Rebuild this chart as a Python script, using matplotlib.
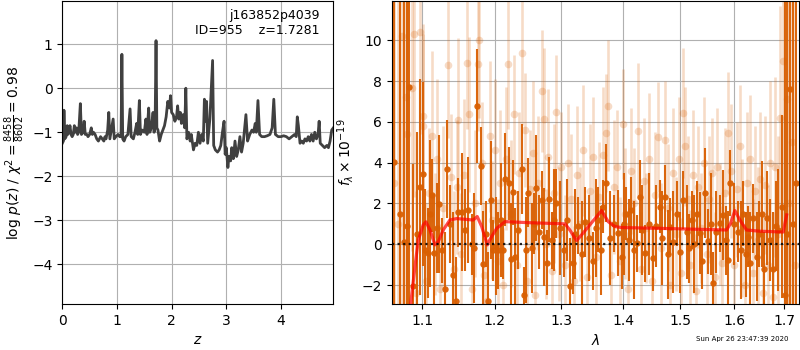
import numpy as np
import matplotlib
matplotlib.use("Agg")
import matplotlib.pyplot as plt
from matplotlib.ticker import FixedLocator, FixedFormatter, NullLocator

# ---------------- p(z) data ----------------
pz_z = [0.00, 0.02, 0.03, 0.045, 0.07, 0.09, 0.10, 0.12, 0.14, 0.16, 0.18, 0.20, 0.22, 0.24, 0.26, 0.28,
        0.30, 0.33, 0.35, 0.38, 0.40, 0.42, 0.45, 0.47, 0.50, 0.53, 0.55, 0.57, 0.60, 0.63, 0.66, 0.70,
        0.73, 0.76, 0.78, 0.80, 0.83, 0.85, 0.87, 0.89, 0.93, 0.95, 0.98, 1.02, 1.05, 1.075, 1.09, 1.105,
        1.13, 1.16, 1.20, 1.24, 1.26, 1.30, 1.33, 1.36, 1.38, 1.41, 1.43, 1.46, 1.50, 1.53, 1.55, 1.58,
        1.60, 1.63, 1.66, 1.68, 1.70, 1.715, 1.73, 1.75, 1.78, 1.81, 1.84, 1.87, 1.90, 1.93, 1.96, 1.98,
        2.00, 2.03, 2.06, 2.09, 2.11, 2.13, 2.16, 2.18, 2.21, 2.24, 2.26, 2.28, 2.31, 2.34, 2.36, 2.40,
        2.43, 2.46, 2.49, 2.52, 2.55, 2.58, 2.60, 2.62, 2.64, 2.66, 2.70, 2.75, 2.77, 2.80, 2.84, 2.87,
        2.90, 2.93, 2.96, 2.98, 3.00, 3.03, 3.05, 3.08, 3.10, 3.13, 3.16, 3.19, 3.22, 3.25, 3.28, 3.31,
        3.36, 3.39, 3.43, 3.47, 3.50, 3.53, 3.55, 3.58, 3.61, 3.65, 3.70, 3.75, 3.80, 3.84, 3.87, 3.90,
        3.95, 4.00, 4.05, 4.10, 4.15, 4.20, 4.25, 4.28, 4.30, 4.32, 4.35, 4.38, 4.41, 4.44, 4.47, 4.50,
        4.53, 4.56, 4.59, 4.62, 4.65, 4.68, 4.70, 4.72, 4.76, 4.80, 4.84, 4.87, 4.90, 4.93, 4.96]
pz_logp = [-1.25, -1.2, -0.5, -1.15, -1.1, -0.85, -1.05, -1.0, -0.85, -1.05, -1.1, -1.05, -0.85, -1.0, -0.9, -1.05,
           -1.0, -0.35, -1.05, -1.0, -0.75, -1.05, -1.05, -1.1, -1.05, -0.9, -1.05, -1.0, -1.05, -1.15, -1.2, -1.1,
           -1.15, -1.2, -1.1, -1.15, -0.95, -0.55, -1.15, -1.0, -0.7, -1.15, -1.1, -1.05, -1.1, -1.1, 0.77, -1.15,
           -1.2, -1.1, -1.05, -0.47, -1.1, -1.15, -1.0, -0.8, -1.05, -0.28, -1.05, -0.95, -1.0, -0.7, -1.05, -0.45,
           -1.0, -0.9, -0.55, -1.0, -0.6, 1.08, -0.9, -0.95, -1.2, -1.05, -0.95, -0.85, -0.65, -0.3, -0.45, -0.17,
           -0.55, -0.6, -0.75, -0.65, -0.4, -0.7, -0.55, -0.8, -0.6, -0.9, 0.0, -1.15, -1.0, -1.2, -1.05, -1.4,
           -1.25, -1.3, -1.0, -1.25, -1.05, -1.2, -0.25, -0.75, -0.3, -1.25, -0.7, 0.63, -1.3, -1.4, -1.45, -1.4,
           -1.3, -1.0, -0.75, -1.5, -1.35, -1.8, -1.55, -1.65, -1.35, -1.6, -1.2, -1.55, -1.4, -1.1, -1.45, -1.25,
           -0.6, -1.2, -1.05, -0.95, -1.0, -0.8, -1.0, -0.28, -1.05, -1.1, -1.1, -1.08, -1.05, -0.9, -0.25, -1.05,
           -1.1, -1.1, -1.08, -1.1, -1.15, -1.1, -1.05, -1.1, -0.65, -0.85, -1.25, -1.2, -1.25, -1.15, -1.2, -1.1,
           -1.2, -1.05, -1.2, -1.0, -1.15, -1.05, -0.75, -1.25, -1.3, -1.35, -1.3, -1.35, -1.2, -0.95, -0.9]

# ---------------- spectrum data (dark points) ----------------
dark_wave = [1.063, 1.0705, 1.0761, 1.0792, 1.0822, 1.0876, 1.0925, 1.0966, 1.1002, 1.1035, 1.1073, 1.1100,
             1.1122, 1.1157, 1.1190, 1.1220, 1.1260, 1.1306, 1.1333, 1.1370, 1.1415, 1.1452, 1.1484, 1.1530,
             1.1577, 1.1623, 1.1670, 1.1710, 1.1749, 1.1797, 1.1834, 1.1870, 1.1905, 1.1944, 1.1980, 1.2016,
             1.2050, 1.2085, 1.2120, 1.2151, 1.2210, 1.2240, 1.2269, 1.2300, 1.2340, 1.2393, 1.2431, 1.2460,
             1.2491, 1.2542, 1.2575, 1.2607, 1.2650, 1.2693, 1.2728, 1.2770, 1.2810, 1.2856, 1.2890, 1.2924,
             1.2980, 1.3038, 1.3085, 1.3133, 1.3185, 1.3220, 1.3264, 1.3320, 1.3371, 1.3440, 1.3505, 1.3550,
             1.3587, 1.3630, 1.3669, 1.3725, 1.3791, 1.3850, 1.3918, 1.3975, 1.4020, 1.4059, 1.4100, 1.4144,
             1.4190, 1.4230, 1.4286, 1.4330, 1.4373, 1.4440, 1.4517, 1.4570, 1.4634, 1.4680, 1.4723, 1.4770,
             1.4812, 1.4870, 1.4932, 1.4990, 1.5051, 1.5113, 1.5160, 1.5205, 1.5250, 1.5296, 1.5357, 1.5400,
             1.5449, 1.5511, 1.5560, 1.5604, 1.5660, 1.5730, 1.5793, 1.5840, 1.5888, 1.5920, 1.6000, 1.6080,
             1.6130, 1.6177, 1.6225, 1.6274, 1.6320, 1.6373, 1.6440, 1.6490, 1.6539, 1.6590, 1.6639, 1.6700,
             1.6772, 1.6820, 1.6873, 1.6942, 1.7009, 1.7060, 1.7112, 1.7170, 1.7240]
dark_flux = [4.05, 1.5, 0.13, 0.9, 7.7, -2.07, 0.5, 2.8, 3.45, -0.3, -0.44, 1.5,
             2.4, -0.44, 0.8, 1.98, -0.3, -2.2, 3.68, 1.0, -1.5, -2.8, 1.57, 1.6,
             0.7, 1.7, 0.0, -0.2, 6.8, 3.84, -0.98, 0.5, -2.8, 2.17, -0.3, -0.1,
             -0.3, 1.2, -0.3, 3.18, 2.99, -0.7, 2.55, -0.6, 0.7, 3.7, -2.5, -0.3,
             2.53, -0.2, 1.0, 2.76, 0.6, 2.17, 0.34, -0.9, 2.2, 0.2, 1.2, 2.0,
             0.8, -0.3, 1.2, -2.07, -0.93, 0.5, 0.9, -0.5, 1.1, 0.3, -0.82, 0.8,
             1.2, -0.3, 1.85, 3.0, 0.3, 1.0, 0.54, -0.6, 1.0, 1.5, 0.2, 1.68,
             -0.3, 0.05, 2.33, 0.7, -0.44, 1.0, -0.69, 0.9, 1.85, 0.3, 2.3, -0.5,
             0.87, 0.1, 1.5, -0.4, 2.17, 0.62, -0.2, 1.19, 0.0, 1.5, 0.54, -0.8,
             2.53, 0.15, 1.0, -1.9, 0.6, 1.03, 1.44, 0.2, -0.77, 3.0, 1.0, 0.62,
             -0.3, 1.5, -0.5, 0.38, -0.9, 1.27, -0.6, 0.5, 1.5, -1.2, 1.27, 0.2,
             -1.23, 0.9, 0.7, 1.85, -2.5, 0.5, 7.6, 1.0, 3.0]
dark_err = [25, 25, 20, 12, 20, 6, 5, 5.3, 4.5, 3.0, 2.2, 3.6,
            1.8, 2.9, 2.2, 3.4, 1.6, 2.8, 2.4, 1.9, 3.1, 2.2, 1.7, 2.9,
            2.0, 2.6, 1.5, 2.7, 2.8, 1.9, 2.6, 1.6, 2.4, 2.9, 1.5, 2.4,
            1.9, 2.8, 1.4, 2.3, 1.8, 2.7, 1.6, 2.4, 1.9, 2.2, 1.4, 2.6,
            1.7, 2.2, 1.5, 2.6, 1.8, 1.4, 2.4, 1.6, 2.1, 1.4, 2.5, 1.7,
            2.3, 1.3, 2.0, 2.4, 1.5, 2.2, 1.4, 2.6, 1.7, 2.1, 1.4, 2.4,
            1.6, 2.2, 1.3, 1.9, 2.3, 1.4, 2.1, 1.6, 2.5, 1.3, 2.0, 1.6,
            2.4, 1.4, 1.8, 2.2, 1.4, 2.5, 1.6, 2.0, 1.3, 2.3, 1.6, 2.2,
            1.4, 2.5, 1.6, 2.0, 1.4, 2.3, 1.7, 1.4, 2.4, 1.6, 2.0, 1.4,
            2.2, 1.6, 2.5, 1.5, 2.0, 1.4, 2.2, 1.7, 2.4, 1.6, 2.0, 1.5,
            2.4, 1.6, 2.1, 1.5, 2.5, 1.7, 2.2, 1.6, 2.6, 1.8, 2.3, 2.0,
            2.8, 2.2, 3.0, 4.5, 15, 20, 25, 25, 25]

# ---------------- spectrum data (light points) ----------------
light_wave = [1.0625, 1.0680, 1.0728, 1.0779, 1.0800, 1.0868, 1.0888, 1.0920, 1.0966, 1.1002, 1.1011, 1.1050,
              1.1090, 1.1122, 1.1170, 1.1200, 1.1240, 1.1280, 1.1346, 1.1380, 1.1420, 1.1460, 1.1484, 1.1520,
              1.1560, 1.1600, 1.1636, 1.1680, 1.1720, 1.1762, 1.1772, 1.1810, 1.1850, 1.1890, 1.1925, 1.1960,
              1.2000, 1.2040, 1.2080, 1.2120, 1.2160, 1.2195, 1.2230, 1.2284, 1.2320, 1.2360, 1.2393, 1.2443,
              1.2480, 1.2520, 1.2560, 1.2600, 1.2640, 1.2693, 1.2728, 1.2760, 1.2800, 1.2850, 1.2880, 1.2917,
              1.2960, 1.3000, 1.3050, 1.3100, 1.3150, 1.3200, 1.3250, 1.3300, 1.3350, 1.3400, 1.3450, 1.3500,
              1.3560, 1.3600, 1.3660, 1.3725, 1.3755, 1.3800, 1.3850, 1.3900, 1.3950, 1.3995, 1.4040, 1.4090,
              1.4140, 1.4190, 1.4258, 1.4300, 1.4350, 1.4400, 1.4450, 1.4500, 1.4550, 1.4606, 1.4650, 1.4723,
              1.4770, 1.4820, 1.4870, 1.4920, 1.4970, 1.5010, 1.5051, 1.5081, 1.5130, 1.5180, 1.5230, 1.5280,
              1.5330, 1.5380, 1.5430, 1.5480, 1.5530, 1.5580, 1.5630, 1.5680, 1.5730, 1.5780, 1.5830, 1.5888,
              1.5940, 1.6000, 1.6050, 1.6113, 1.6160, 1.6210, 1.6260, 1.6310, 1.6360, 1.6410, 1.6460, 1.6510,
              1.6560, 1.6610, 1.6660, 1.6710, 1.6760, 1.6810, 1.6860, 1.6910, 1.6976, 1.7046, 1.7100, 1.7160,
              1.7220]
light_flux = [3.0, 1.0, 10.2, 7.2, 5.4, 7.65, 10.3, -2.4, 10.4, 6.3, 5.8, -1.8,
              2.5, 5.3, 0.5, 4.2, -2.2, 1.8, 8.8, 3.3, -1.2, 2.8, 6.1, -0.5,
              3.4, 8.87, 6.37, -2.2, 2.0, 8.84, 10.0, 4.0, -1.5, -2.8, 5.3, 1.2,
              4.6, -0.8, 3.0, -2.0, 4.2, 8.84, 1.5, 6.37, -1.0, 3.5, 9.36, 5.6,
              -1.8, 2.7, 4.5, -2.5, 3.0, 7.53, 6.13, 0.0, 4.3, -1.3, 2.5, 6.47,
              0.5, 3.8, -1.0, 4.0, 2.2, -1.8, 3.4, 1.0, 4.6, -1.6, 2.6, 4.3,
              -0.6, 2.3, 4.4, 5.44, 6.8, -1.5, 2.8, 3.8, -0.8, 5.9, 1.5, -2.2,
              3.6, 2.0, 5.57, -1.2, 3.1, 0.8, 4.2, -1.8, 2.4, 5.28, -0.2, 5.1,
              1.8, -2.0, 3.5, 0.5, 4.2, -1.4, 6.45, 4.8, 2.2, -1.0, 3.4, -2.3,
              2.8, 0.8, 4.0, -0.5, 2.2, 3.5, -1.6, 3.8, 1.0, -0.9, 2.5, 5.47,
              3.6, -1.0, 2.7, 4.8, 0.8, -2.0, 3.0, 4.2, -1.4, 2.6, 0.2, 3.2,
              -2.4, 2.9, -1.0, 4.0, -2.6, 3.8, 0.5, 6.2, 9.0, 7.1, 2.0, 5.0,
              -1.0]
light_err = [30, 25, 20, 15, 12, 8, 8, 5, 5, 4.5, 4.5, 3.8,
             3.2, 4.2, 3.0, 3.9, 3.2, 4.0, 3.6, 3.1, 3.8, 3.3, 4.0, 3.0,
             3.7, 3.2, 3.8, 2.9, 3.6, 3.3, 3.8, 3.0, 3.5, 3.1, 3.7, 2.9,
             3.5, 3.0, 3.6, 2.8, 3.5, 3.2, 3.6, 2.9, 3.4, 3.0, 3.5, 2.8,
             3.4, 2.9, 3.5, 2.8, 3.3, 3.0, 3.5, 2.7, 3.3, 2.9, 3.4, 2.8,
             3.3, 2.7, 3.4, 2.9, 3.2, 2.7, 3.4, 2.8, 3.2, 2.7, 3.3, 2.9,
             3.1, 2.7, 3.3, 2.9, 3.2, 2.7, 3.3, 2.8, 3.1, 2.7, 3.2, 2.8,
             3.1, 2.7, 3.3, 2.8, 3.1, 2.7, 3.2, 2.8, 3.1, 2.7, 3.2, 2.9,
             3.1, 2.7, 3.2, 2.8, 3.0, 2.7, 3.2, 2.9, 3.1, 2.7, 3.2, 2.8,
             3.0, 2.7, 3.2, 2.8, 3.1, 2.7, 3.2, 2.9, 3.0, 2.8, 3.2, 3.0,
             3.3, 2.9, 3.3, 3.0, 3.4, 3.0, 3.5, 3.1, 3.6, 3.2, 3.6, 3.3,
             3.8, 3.4, 3.9, 4.0, 4.2, 4.4, 4.8, 5.5, 8, 15, 25, 25,
             25]

# ---------------- best-fit model ----------------
model_wave = [1.078, 1.0845, 1.0901, 1.0944, 1.1010, 1.1046, 1.1100, 1.1166, 1.1211, 1.1278, 1.1369, 1.1461,
              1.1692, 1.1749, 1.1812, 1.1891, 1.1955, 1.2027, 1.2148, 1.2491, 1.3058, 1.3133, 1.3240, 1.3320,
              1.3644, 1.3753, 1.3864, 1.3975, 1.4634, 1.5858, 1.5934, 1.6017, 1.6113, 1.6243, 1.6505, 1.6976,
              1.7046]
model_flux = [-8.0, -2.93, -1.1, 0.2, 0.95, 1.1, 0.7, -0.03, 0.13, 0.7, 1.19, 1.26,
              1.19, 1.36, 0.87, -0.03, 0.38, 0.78, 1.11, 1.06, 1.0, 0.7, 0.18, 0.46,
              1.65, 1.11, 0.87, 0.82, 0.78, 0.7, 1.03, 1.65, 1.19, 0.7, 0.64, 0.6,
              1.44]

xticks_right = [1.1, 1.2, 1.3, 1.4, 1.5, 1.6, 1.7]
xtick_labels_right = ['1.1', '1.2', '1.3', '1.4', '1.5', '1.6', '1.7']

orange = '#d95f02'

fig = plt.figure(figsize=(8, 3.5), dpi=100)

# ---- left panel ----
ax1 = fig.add_axes([0.0779, 0.1314, 0.3388, 0.8657])
ax1.plot(pz_z, pz_logp, color='0.25', lw=2)
ax1.set_xlim(0, 4.96)
ax1.set_ylim(-4.90, 1.98)
ax1.set_xticks([0, 1, 2, 3, 4])
ax1.set_yticks([-4, -3, -2, -1, 0, 1])
ax1.grid(True)
ax1.set_xlabel('$z$')
ax1.set_ylabel(r'$\log\,p(z)$ / $\chi^2=\frac{8458}{8602}=0.98$')
ax1.text(0.95, 0.975, 'j163852p4039\nID=955    z=1.7281', transform=ax1.transAxes,
         ha='right', va='top', fontsize=9)

# ---- right panel ----
ax2 = fig.add_axes([0.4896, 0.1314, 0.5091, 0.8657])
ax2.errorbar(light_wave, light_flux, yerr=light_err, color=orange, alpha=0.22,
             marker='o', ms=5.5, linestyle='none', elinewidth=1.9, capsize=0, mew=0)
ax2.errorbar(dark_wave, dark_flux, yerr=dark_err, color=orange, alpha=0.95,
             marker='o', ms=4.6, linestyle='none', elinewidth=1.5, capsize=0, mew=0)
ax2.plot(model_wave, model_flux, color='r', alpha=0.7, lw=2.3, zorder=5)
ax2.axhline(0, color='k', linestyle=(0, (1, 1.5)), lw=1.6, alpha=0.85, zorder=6)
ax2.set_xscale('log')
ax2.set_xlim(1.060, 1.730)
ax2.set_ylim(-2.93, 11.93)
ax2.xaxis.set_major_locator(FixedLocator(xticks_right))
ax2.xaxis.set_major_formatter(FixedFormatter(xtick_labels_right))
ax2.xaxis.set_minor_locator(NullLocator())
ax2.set_yticks([-2, 0, 2, 4, 6, 8, 10])
ax2.grid(True)
ax2.set_xlabel(r'$\lambda$')
ax2.set_ylabel(r'$f_\lambda \times 10^{-19}$')

fig.text(0.985, 0.022, 'Sun Apr 26 23:47:39 2020', ha='right', va='bottom', fontsize=5)

fig.savefig('out.png', dpi=100)
